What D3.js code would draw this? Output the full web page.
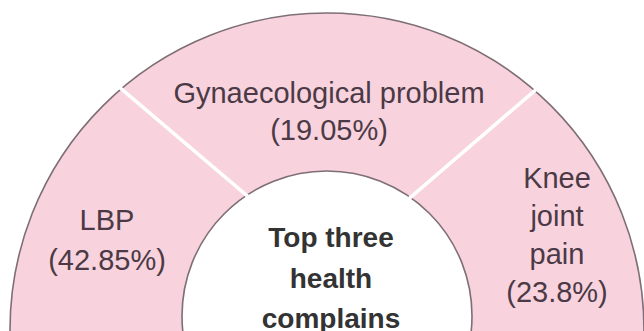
<!DOCTYPE html>
<html>
<head>
<meta charset="utf-8">
<script src="https://cdn.jsdelivr.net/npm/d3@7"></script>
<style>
  html, body { margin: 0; padding: 0; background: #fff; }
  svg { display: block; }
</style>
</head>
<body>
<svg id="chart" width="644" height="331"></svg>
<script>
// ---- data ----
const categories = ["LBP", "Gynaecological problem", "Knee joint pain"];
const values = [42.85, 19.05, 23.8];
const labelLines = [["LBP"], ["Gynaecological problem"], ["Knee", "joint", "pain"]];
const centerTitle = ["Top three", "health", "complains"];

// ---- layout ----
const W = 644, H = 331;
const outer = { cx: 327, cy: 330, r: 317 };
const inner = { cx: 327, cy: 316, r: 145 };
// divider angles (degrees from vertical) on the outer / inner rims
const dividers = [
  { outer: -40.5, inner: -33.5 },
  { outer: 41, inner: 35 }
];
// label anchor positions: [x, first baseline, line height]
const labelPos = [
  { x: 107, y: 230, lh: 40 },
  { x: 329, y: 103, lh: 37 },
  { x: 557, y: 188, lh: 38 }
];

const pink = "#f8d3de", edge = "#7e6e76", labelColor = "#4b3a45";
const fmt = d3.format(".2~f");

const svg = d3.select("#chart");

// ring made from the outer and inner discs
svg.append("circle")
  .attr("cx", outer.cx).attr("cy", outer.cy).attr("r", outer.r)
  .attr("fill", pink).attr("stroke", edge).attr("stroke-width", 1.6);
svg.append("circle")
  .attr("cx", inner.cx).attr("cy", inner.cy).attr("r", inner.r)
  .attr("fill", "#fff").attr("stroke", edge).attr("stroke-width", 1.6);

// white dividers between segments
const pt = (c, r, deg) => {
  const a = deg * Math.PI / 180;
  return [c.cx + r * Math.sin(a), c.cy - r * Math.cos(a)];
};
svg.selectAll("line.div").data(dividers).join("line")
  .attr("class", "div")
  .each(function (d) {
    const p1 = pt(outer, outer.r + 1.5, d.outer);
    const p2 = pt(inner, inner.r - 1.5, d.inner);
    d3.select(this).attr("x1", p1[0]).attr("y1", p1[1]).attr("x2", p2[0]).attr("y2", p2[1]);
  })
  .attr("stroke", "#fff").attr("stroke-width", 3.5);

// segment labels
const labels = categories.map((c, i) => ({
  lines: labelLines[i].concat(["(" + fmt(values[i]) + "%)"]),
  pos: labelPos[i]
}));
const g = svg.selectAll("text.lab").data(labels).join("text")
  .attr("class", "lab")
  .attr("text-anchor", "middle")
  .attr("font-family", "Liberation Sans, Arial, sans-serif")
  .attr("font-size", 29)
  .attr("fill", labelColor);
g.selectAll("tspan").data(d => d.lines.map((l, i) => ({ l, i, p: d.pos }))).join("tspan")
  .attr("x", d => d.p.x)
  .attr("y", d => d.p.y + d.i * d.p.lh)
  .text(d => d.l);

// centre title
svg.append("text")
  .attr("text-anchor", "middle")
  .attr("font-family", "Liberation Sans, Arial, sans-serif")
  .attr("font-size", 28)
  .attr("font-weight", "bold")
  .attr("fill", "#333")
  .selectAll("tspan").data(centerTitle).join("tspan")
  .attr("x", 331)
  .attr("y", (d, i) => 247 + i * 40.5)
  .text(d => d);
</script>
</body>
</html>
